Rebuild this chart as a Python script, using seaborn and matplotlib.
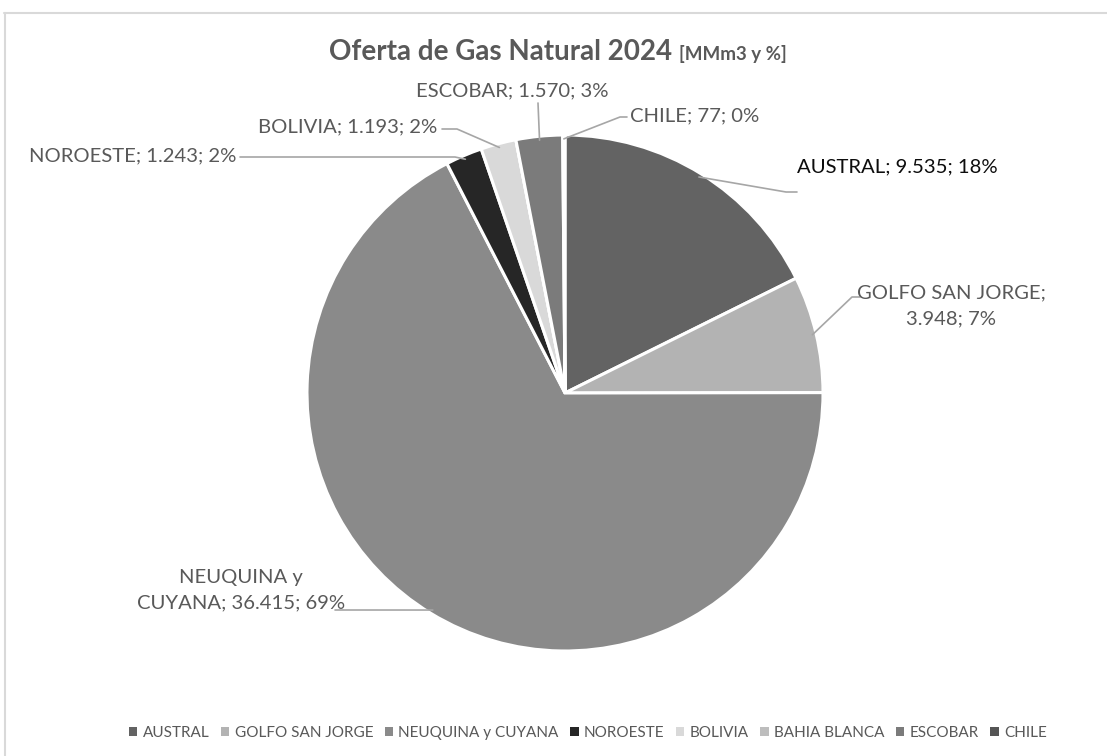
import matplotlib.pyplot as plt
import seaborn as sns
from matplotlib.lines import Line2D
from matplotlib.patches import Patch
import numpy as np

# --- Data ---
regions = ["AUSTRAL", "GOLFO SAN JORGE", "NEUQUINA y CUYANA", "NOROESTE",
           "BOLIVIA", "BAHIA BLANCA", "ESCOBAR", "CHILE"]
supply_mmm3 = [9535, 3948, 36415, 1243, 1193, 0, 1570, 77]
value_labels = ["9.535", "3.948", "36.415", "1.243", "1.193", "0", "1.570", "77"]
pct_labels = ["18%", "7%", "69%", "2%", "2%", "0%", "3%", "0%"]

# --- Style ---
W, H = 1107, 756
CX, CY, R = 565, 393, 258          # pie centre / radius in pixels
TEXT_GREY = "#595959"
colors = ["#636363", "#b3b3b3", "#8a8a8a", "#262626",
          "#d9d9d9", "#bdbdbd", "#7b7b7b", "#555555"]

# label layout in pixels: text anchor, alignment, elbow point, end point
label_layout = {
    "AUSTRAL":           ((797, 167), "left",   (786, 192), (797, 192)),
    "GOLFO SAN JORGE":   ((951, 306), "center", (852, 297), (860, 297)),
    "NEUQUINA y CUYANA": ((241, 590), "center", (340, 610), (335, 610)),
    "NOROESTE":          ((236, 156), "right",  (455, 157), (240, 157)),
    "BOLIVIA":           ((437, 127), "right",  (457, 129), (442, 129)),
    "ESCOBAR":           ((512, 91),  "center", (538, 103), (538, 103)),
    "CHILE":             ((630, 116), "left",   (620, 117), (627, 117)),
}
wrapped = {
    "GOLFO SAN JORGE": "GOLFO SAN JORGE;\n{v}; {p}",
    "NEUQUINA y CUYANA": "NEUQUINA y\nCUYANA; {v}; {p}",
}


def px(x, y):
    return (x - CX) / R, (CY - y) / R


sns.set_theme(style="white")
plt.rcParams['font.family'] = ['Lato', 'DejaVu Sans']

fig = plt.figure(figsize=(W / 100, H / 100), dpi=100)
ax = fig.add_axes([(CX - R) / W, (H - CY - R) / H, 2 * R / W, 2 * R / H])

wedges, _ = ax.pie(supply_mmm3, colors=colors, startangle=90, counterclock=False,
                   radius=1, wedgeprops=dict(edgecolor="white", linewidth=2.2))
ax.set_xlim(-1, 1)
ax.set_ylim(-1, 1)
ax.set_aspect("equal")
ax.axis("off")

# data labels with leader lines
for name, w, val, pct in zip(regions, wedges, value_labels, pct_labels):
    if name not in label_layout:
        continue
    (tx, ty), ha, elbow, end = label_layout[name]
    mid = np.deg2rad((w.theta1 + w.theta2) / 2)
    sx, sy = 0.985 * np.cos(mid), 0.985 * np.sin(mid)
    ex, ey = px(*elbow)
    nx, ny = px(*end)
    ax.plot([sx, ex, nx], [sy, ey, ny], color="#a6a6a6", lw=1.2, clip_on=False, zorder=1)
    txt = wrapped.get(name, "{n}; {v}; {p}").format(n=name, v=val, p=pct)
    tcol = "#0d0d0d" if name == "AUSTRAL" else TEXT_GREY
    x0, y0 = px(tx, ty)
    ax.text(x0, y0, txt, ha=ha, va="center", fontsize=14.6, color=tcol,
            linespacing=1.6, multialignment="center")

# title
fig.text(672 / W, 1 - 52 / H, "Oferta de Gas Natural 2024", ha="right", va="center",
         fontsize=20, fontweight="bold", color=TEXT_GREY)
fig.text(679 / W, 1 - 54 / H, "[MMm3 y %]", ha="left", va="center",
         fontsize=13.5, fontweight="bold", color=TEXT_GREY)

# legend
handles = [Patch(facecolor=c, edgecolor="none", label=n) for n, c in zip(regions, colors)]
fig.legend(handles=handles, loc="center", bbox_to_anchor=(588 / W, 1 - 733 / H), ncol=8,
           frameon=False, fontsize=11, labelcolor=TEXT_GREY, handlelength=0.55,
           handleheight=0.55, handletextpad=0.35, columnspacing=0.75)

# chart-area border
bc = "#d9d9d9"
fig.add_artist(Line2D([4.5 / W, 4.5 / W], [0, 1 - 13 / H], transform=fig.transFigure, color=bc, lw=1.5))
fig.add_artist(Line2D([4 / W, 1], [1 - 13 / H, 1 - 13 / H], transform=fig.transFigure, color=bc, lw=1.5))

fig.savefig("out.png", dpi=100)
